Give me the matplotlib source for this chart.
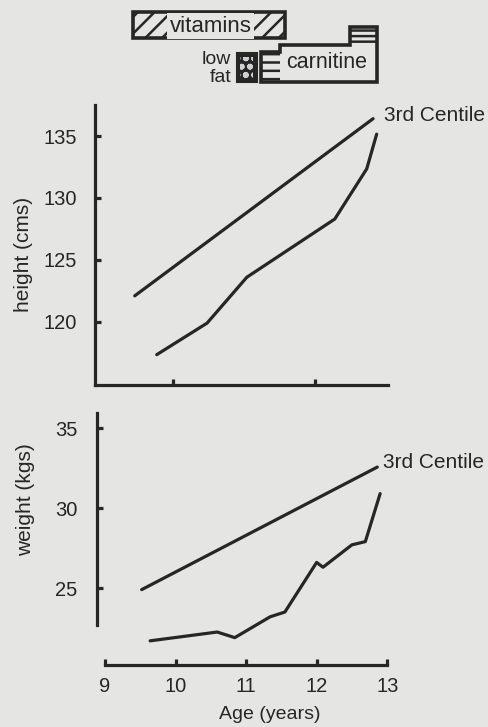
import matplotlib
matplotlib.use("Agg")
import matplotlib.pyplot as plt
from matplotlib.patches import Rectangle, Polygon

plt.rcParams['font.family'] = ['Liberation Sans', 'DejaVu Sans']
plt.rcParams['hatch.linewidth'] = 1.8

# ---------------- data ----------------
height_centile_age = [9.46, 12.82]
height_centile_val = [122.1, 136.4]
height_patient_age = [9.77, 10.48, 11.04, 12.28, 12.73, 12.87]
height_patient_val = [117.35, 119.9, 123.6, 128.3, 132.35, 135.15]

weight_centile_age = [9.52, 12.86]
weight_centile_val = [24.9, 32.56]
weight_patient_age = [9.64, 10.59, 10.84, 11.34, 11.55, 12.0, 12.09, 12.5, 12.69, 12.9]
weight_patient_val = [21.7, 22.25, 21.9, 23.2, 23.5, 26.6, 26.3, 27.7, 27.9, 30.9]

height_ticks = [120, 125, 130, 135]
weight_ticks = [25, 30, 35]
age_ticks = [9, 10, 11, 12, 13]
upper_age_ticks = [10, 12]

vitamins_period = (9.44, 11.58)
lowfat_period = (10.90, 11.18)
carnitine_period = (11.24, 12.87)
carnitine_steps = (11.51, 12.49)

# ---------------- style ----------------
BG = '#e5e5e3'
INK = '#262626'
LW = 2.3

fig = plt.figure(figsize=(4.88, 7.27), dpi=100, facecolor=BG)

# treatment bars axis (y in arbitrary top-down units)
axt = fig.add_axes([0.1947, 0.8693, 0.6004, 0.1307])
axt.set_xlim(8.90, 13.03)
axt.set_ylim(95, 0)
axt.axis('off')

# vitamins
v0, v1 = vitamins_period
axt.add_patch(Rectangle((v0, 12), v1 - v0, 26, facecolor='none', edgecolor=INK, lw=2.6, hatch='//'))
axt.text((v0 + v1) / 2 + 0.02, 26, 'vitamins', ha='center', va='center',
         fontsize=16, color=INK,
         bbox=dict(boxstyle='square,pad=0.12', facecolor=BG, edgecolor='none'))

# low fat
l0, l1 = lowfat_period
axt.add_patch(Rectangle((l0, 53), l1 - l0, 29, facecolor=INK, edgecolor=INK, lw=1.5))
axt.add_patch(Rectangle((l0 + 0.05, 57), l1 - l0 - 0.1, 21,
                        facecolor='none', edgecolor='#cfcfcf', lw=0, hatch='oo'))
axt.text(l0 - 0.08, 59, 'low', ha='right', va='center', fontsize=14, color=INK)
axt.text(l0 - 0.08, 77, 'fat', ha='right', va='center', fontsize=14, color=INK)

# carnitine
c0, c1 = carnitine_period
s0, s1 = carnitine_steps
axt.add_patch(Rectangle((c0, 52), s0 - c0, 30, facecolor='none', edgecolor=INK, lw=0, hatch='--'))
axt.add_patch(Rectangle((s1, 27), c1 - s1, 18, facecolor='none', edgecolor=INK, lw=0, hatch='---'))
axt.add_patch(Polygon([(c0, 82), (c0, 52), (s0, 52), (s0, 45), (s1, 45), (s1, 27),
                       (c1, 27), (c1, 82)], closed=True,
                      facecolor='none', edgecolor=INK, lw=2.6))
axt.text((s0 + c1) / 2 - 0.02, 62, 'carnitine', ha='center', va='center', fontsize=15.5, color=INK)

def style_axes(ax):
    ax.set_facecolor('none')
    for s in ['top', 'right']:
        ax.spines[s].set_visible(False)
    for s in ['left', 'bottom']:
        ax.spines[s].set_linewidth(2.3)
        ax.spines[s].set_color(INK)
    ax.tick_params(direction='in', length=4, width=2.3, color=INK, labelcolor=INK, labelsize=14.5)

# upper: height
ax1 = fig.add_axes([0.1947, 0.4704, 0.6004, 0.3851])
style_axes(ax1)
ax1.plot(height_centile_age, height_centile_val, color=INK, lw=LW, solid_capstyle='round')
ax1.plot(height_patient_age, height_patient_val, color=INK, lw=LW, solid_capstyle='round',
         solid_joinstyle='round')
ax1.set_xlim(8.90, 13.03)
ax1.set_ylim(114.9, 137.5)
ax1.set_yticks(height_ticks)
ax1.set_xticks(upper_age_ticks)
ax1.set_xticklabels([])
ax1.tick_params(axis='y', pad=13)
ax1.set_ylabel('height (cms)', fontsize=15, color=INK)
ax1.yaxis.set_label_coords(-0.212, 0.468)
ax1.annotate('3rd Centile', xy=(height_centile_age[-1], height_centile_val[-1]),
             xytext=(8, 2), textcoords='offset points', ha='left', va='center',
             fontsize=15, color=INK, annotation_clip=False)

# lower: weight
ax2 = fig.add_axes([0.1988, 0.0853, 0.6004, 0.3466])
style_axes(ax2)
ax2.plot(weight_centile_age, weight_centile_val, color=INK, lw=LW, solid_capstyle='round')
ax2.plot(weight_patient_age, weight_patient_val, color=INK, lw=LW, solid_capstyle='round',
         solid_joinstyle='round')
ax2.set_xlim(8.887, 13.04)
ax2.set_ylim(20.19, 35.94)
ax2.spines['left'].set_bounds(22.7, 35.94)
ax2.spines['bottom'].set_bounds(9, 13)
ax2.set_yticks(weight_ticks)
ax2.set_xticks(age_ticks)
ax2.tick_params(axis='y', pad=14)
ax2.tick_params(axis='x', pad=9)
ax2.set_ylabel('weight (kgs)', fontsize=15, color=INK)
ax2.yaxis.set_label_coords(-0.212, 0.655)
ax2.set_xlabel('Age (years)', fontsize=14, color=INK, va='center')
ax2.xaxis.set_label_coords(0.59, -0.198)
ax2.annotate('3rd Centile', xy=(weight_centile_age[-1], weight_centile_val[-1]),
             xytext=(4, 3), textcoords='offset points', ha='left', va='center',
             fontsize=15, color=INK, annotation_clip=False)

fig.savefig('out.png', dpi=100, facecolor=BG)
